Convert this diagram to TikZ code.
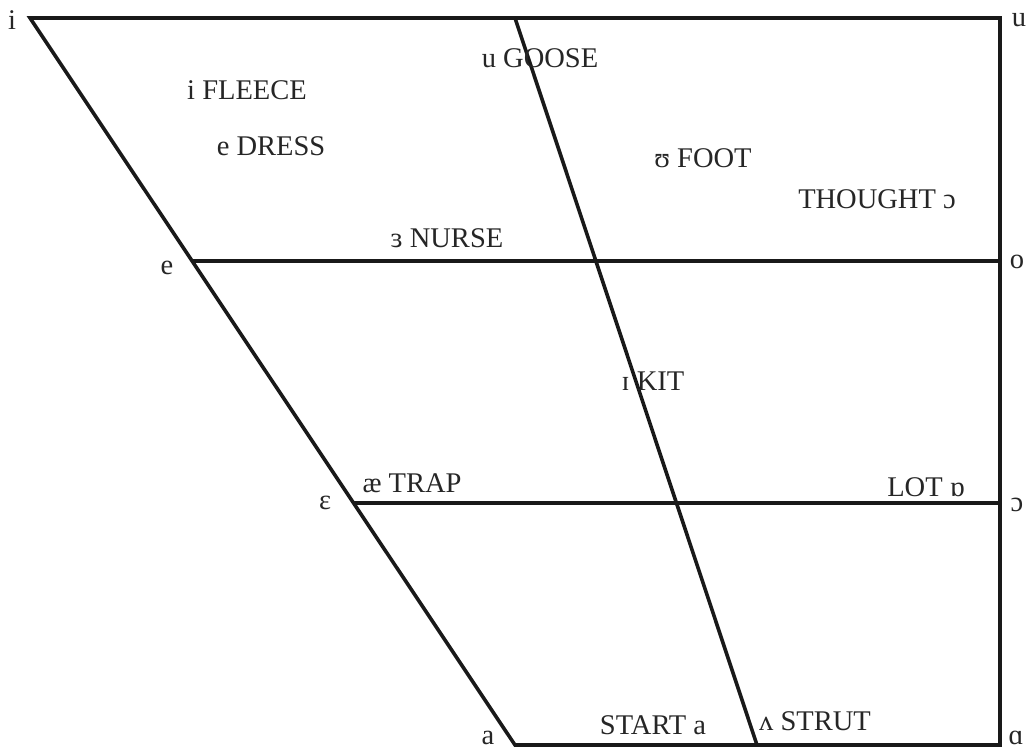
\documentclass[tikz,border=0pt]{standalone}
\usepackage{fontspec}
\setmainfont{Liberation Serif}
\tikzset{
  chart/.style={line width=3.6pt, line join=miter, black!90},
  lbl/.style={inner sep=0pt, font=\fontsize{28.5}{32}\selectfont, text=black!85},
}
\begin{document}
\begin{tikzpicture}[x=1pt,y=-1pt]
\useasboundingbox (0,0) rectangle (1028,749);
\coordinate (TL) at (30,18);
\coordinate (TM) at (515,18);
\coordinate (TR) at (1000,18);
\coordinate (BL) at (515,745);
\coordinate (BM) at (757,745);
\coordinate (BR) at (1000,745);
\coordinate (EL) at (192,261);
\coordinate (ER) at (1000,261);
\coordinate (OL) at (354,503);
\coordinate (OR) at (1000,503);
\draw[chart] (BL) -- (TL) -- (TR) -- (BR) -- cycle;
\draw[chart] (TM) -- (BM);
\draw[chart] (EL) -- (ER);
\draw[chart] (OL) -- (OR);
% corner labels
\node[lbl] (li) at (12,20) {i};
\node[lbl] (lu) at (1019,20) {u};
\node[lbl] (le) at (167,268) {e};
\node[lbl] (lo) at (1017,262) {o};
\node[lbl] (leps) at (325,503) {ɛ};
\node[lbl] (lopen) at (1017,505) {ɔ};
\node[lbl] (la) at (488,738) {a};
\node[lbl] (lalpha) at (1016,738) {ɑ};
% lexical sets
\node[lbl] (fleece) at (247,90) {i FLEECE};
\node[lbl] (dress) at (271,146) {e DRESS};
\node[lbl] (goose) at (540,58) {u GOOSE};
\node[lbl] (foot) at (703,158) {ʊ FOOT};
\node[lbl] (thought) at (877,199) {THOUGHT ɔ};
\node[lbl] (nurse) at (447,238) {ɜ NURSE};
\node[lbl] (kit) at (653,381) {ɪ KIT};
\node[lbl] (trap) at (412,483) {æ TRAP};
\node[lbl] (lot) at (926,487) {LOT ɒ};
\node[lbl] (start) at (653,725) {START a};
\node[lbl] (strut) at (815,721) {ʌ STRUT};
\end{tikzpicture}
\end{document}
